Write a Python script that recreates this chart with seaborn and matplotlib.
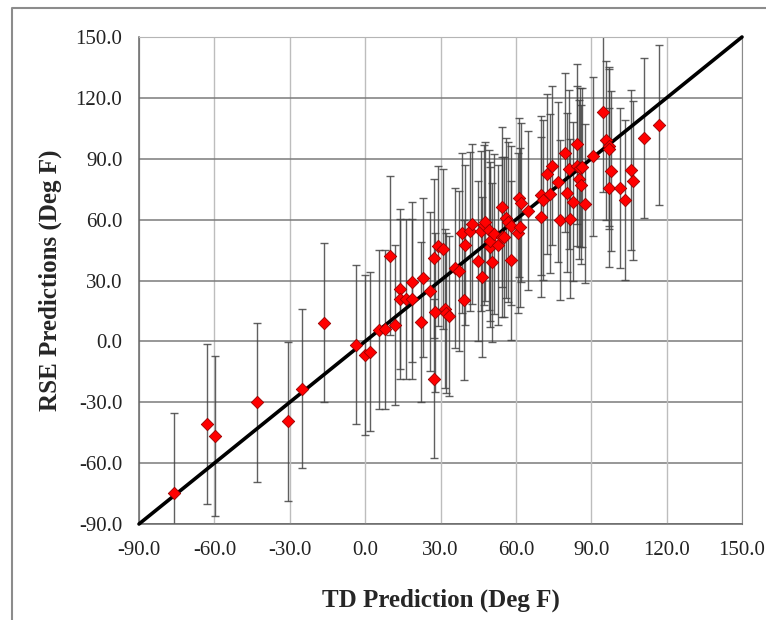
import numpy as np
import pandas as pd
import matplotlib
matplotlib.use("Agg")
import matplotlib.pyplot as plt
from matplotlib.lines import Line2D
import seaborn as sns

# ---- data ----
td_pred = [-76.0, -62.8, -59.7, -43.2, -30.6, -25.2, -16.3, -3.5, 0.0, 1.8,
           5.7, 7.9, 9.9, 12.0, 13.8, 13.9, 16.4, 18.5, 18.7, 22.1,
           23.2, 25.8, 27.4, 27.6, 27.9, 28.9, 31.1, 31.9, 32.3, 33.5,
           35.8, 37.5, 38.6, 39.4, 39.9, 41.6, 42.4, 45.0, 46.6, 46.2,
           47.2, 47.8, 49.5, 49.7, 49.8, 50.5, 51.2, 52.7, 54.3, 54.6,
           55.2, 56.0, 56.9, 58.0, 58.0, 61.1, 61.0, 61.8, 62.0, 64.7,
           70.1, 70.1, 70.6, 72.2, 73.5, 74.3, 76.7, 77.7, 79.6, 80.2,
           81.0, 81.4, 82.8, 84.2, 84.4, 85.4, 86.5, 85.1, 85.8, 87.4,
           90.7, 94.8, 96.0, 97.0, 97.1, 97.2, 98.0, 101.4, 103.4, 106.0,
           106.7, 111.1, 116.9]
rse_pred = [-74.5, -40.8, -46.6, -30.1, -39.4, -23.3, 9.2, -1.6, -6.6, -5.1,
            5.8, 5.9, 42.2, 8.0, 25.8, 20.8, 20.8, 21.0, 29.2, 9.5,
            31.4, 24.6, 40.9, -18.3, 14.3, 47.1, 45.5, 16.2, 14.0, 12.5,
            36.2, 34.6, 53.4, 20.5, 47.4, 54.2, 57.8, 39.5, 31.7, 54.4,
            57.3, 59.0, 55.0, 46.5, 49.3, 38.9, 53.0, 47.5, 66.3, 51.5,
            51.5, 60.8, 58.8, 57.0, 39.9, 70.9, 53.5, 56.2, 68.4, 64.4,
            61.3, 72.0, 69.7, 82.4, 72.8, 86.6, 78.6, 59.7, 93.0, 73.3,
            84.8, 60.5, 68.9, 97.2, 86.5, 85.6, 85.8, 79.8, 77.3, 67.9,
            91.2, 113.0, 99.1, 96.1, 94.9, 75.8, 84.0, 75.7, 69.6, 84.5,
            79.2, 100.2, 106.6]
rse_err = 39.3                      # half-width of every error bar (Deg F)
diag = [-90.0, 150.0]               # 1:1 reference line end points
ticks = [-90.0, -60.0, -30.0, 0.0, 30.0, 60.0, 90.0, 120.0, 150.0]
tick_labels = [f"{t:.1f}" for t in ticks]

df = pd.DataFrame({"TD": td_pred, "RSE": rse_pred})
line_df = pd.DataFrame({"x": diag, "y": diag})

sns.set_style("white")
plt.rcParams["font.family"] = ["Liberation Serif", "DejaVu Serif"]

fig = plt.figure(figsize=(7.66, 6.2), dpi=100)
ax = fig.add_axes([139 / 766, 1 - 524 / 620, (742 - 139) / 766, (524 - 37) / 620])

# gridlines: horizontal darker, vertical lighter
for t in ticks:
    ax.axhline(t, color="#7a7a7a", lw=1.1, zorder=0)
    ax.axvline(t, color="#bdbdbd", lw=1.0, zorder=0)

# error bars
ax.errorbar(df["TD"], df["RSE"], yerr=rse_err, fmt="none",
            ecolor="#444444", elinewidth=1.0, capsize=3, capthick=1.0,
            alpha=0.85, zorder=2)

# 1:1 line
sns.lineplot(data=line_df, x="x", y="y", color="black", lw=2.6, ax=ax,
             zorder=3, clip_on=False)

# points
sns.scatterplot(data=df, x="TD", y="RSE", marker="D", s=40,
                color="#ff0000", edgecolor="#990000", linewidth=0.6,
                ax=ax, zorder=4, clip_on=True)

ax.set_xlim(-90, 150)
ax.set_ylim(-90, 150)
ax.set_xticks(ticks)
ax.set_xticklabels(tick_labels)
ax.set_yticks(ticks)
ax.set_yticklabels(tick_labels)
ax.tick_params(axis="both", which="both", direction="out", length=5,
               width=1, color="#555555", labelsize=15, labelcolor="#222222")
ax.tick_params(axis="y", pad=7)
ax.tick_params(axis="x", pad=7)

for side in ["left", "bottom"]:
    ax.spines[side].set_color("#666666")
    ax.spines[side].set_linewidth(1.1)
ax.spines["top"].set_color("#b5b5b5")
ax.spines["right"].set_color("#8a8a8a")

ax.set_xlabel("TD Prediction (Deg F)", fontsize=18, fontweight="bold", labelpad=21)
ax.set_ylabel("RSE Predictions (Deg F)", fontsize=18, fontweight="bold", labelpad=10)

# outer frame (left and top edges of the chart area)
fx = 12 / 766
fy = 1 - 8 / 620
fig.add_artist(Line2D([fx, fx, 1.0], [0.0, fy, fy], transform=fig.transFigure,
                      color="#8c8c8c", lw=1.5))

fig.savefig("out.png", dpi=100)
